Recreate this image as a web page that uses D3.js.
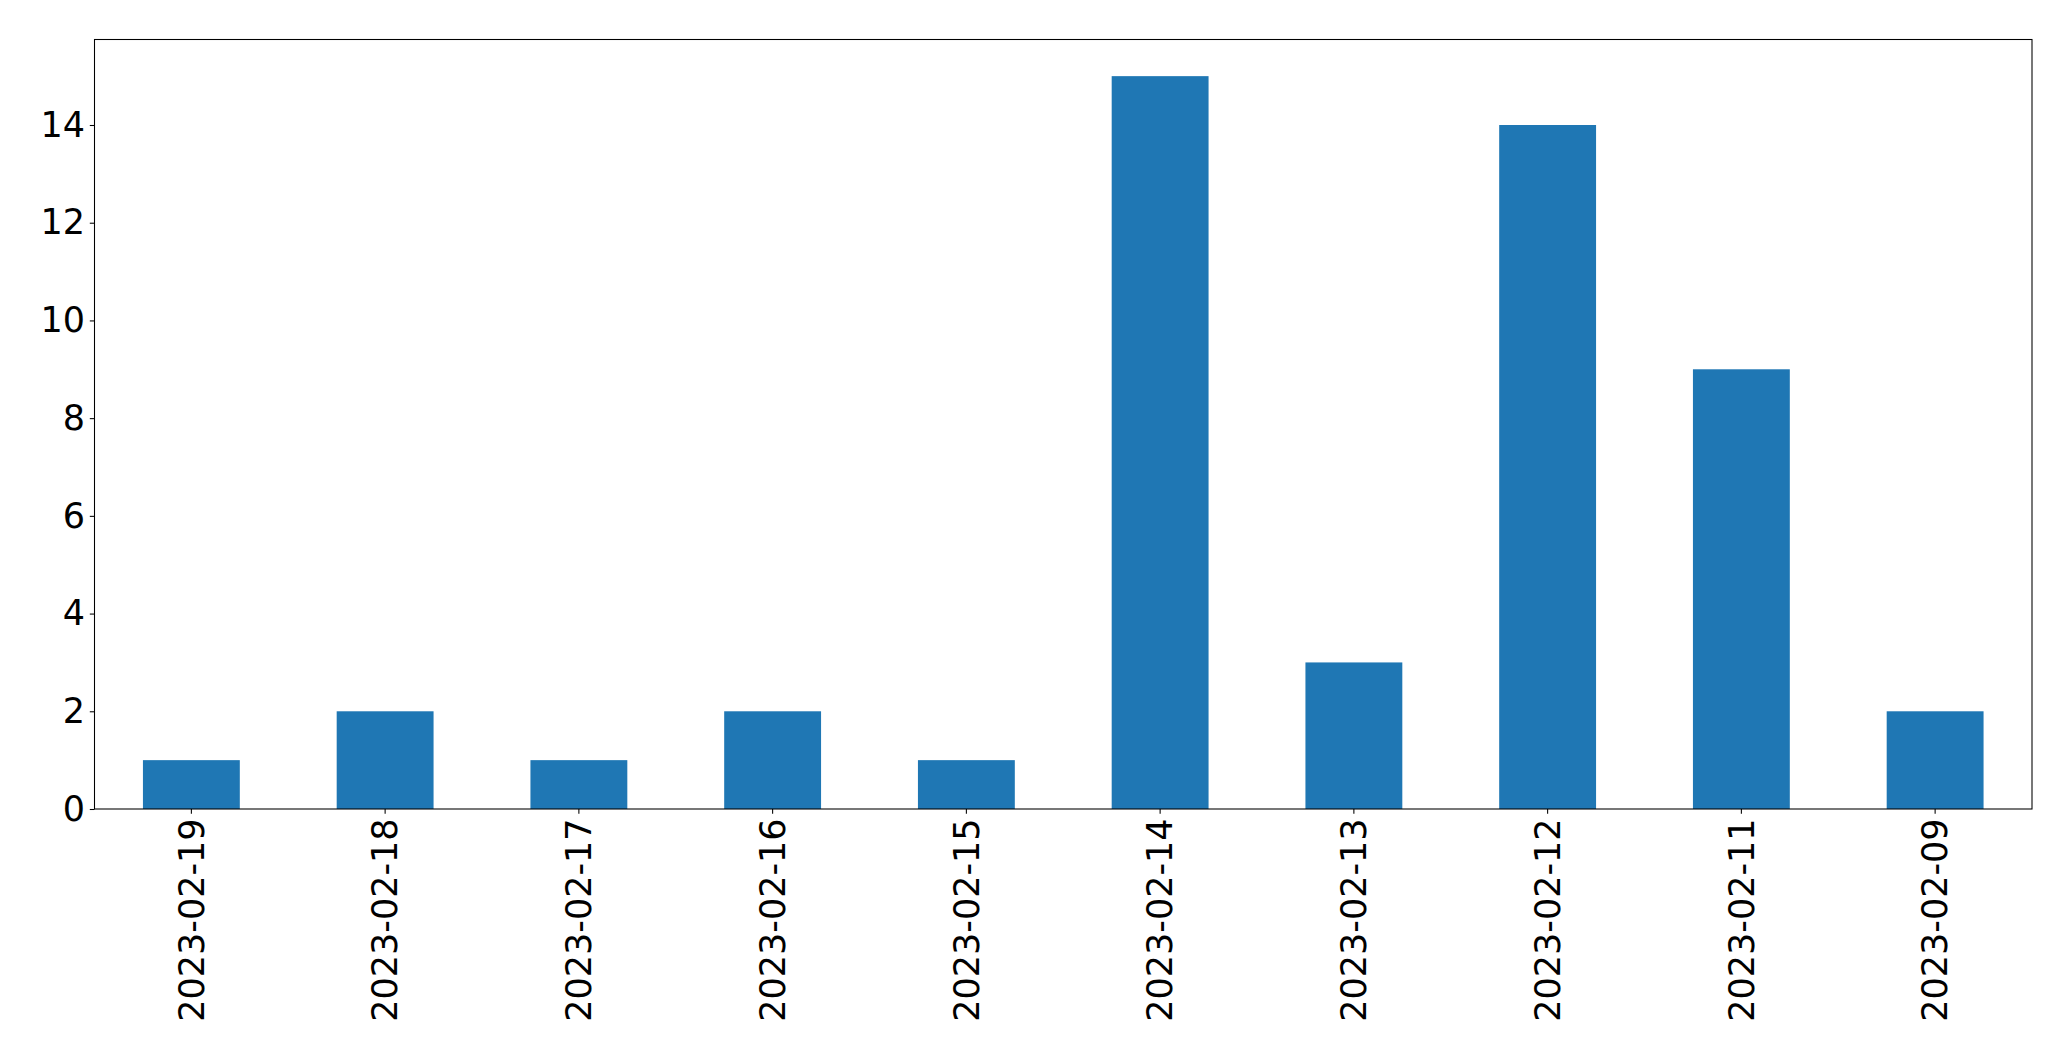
<!DOCTYPE html>
<html><head><meta charset="utf-8">
<script src="https://cdn.jsdelivr.net/npm/d3@7"></script>
<style>body{margin:0;background:#fff;} text{font-family:"DejaVu Sans",sans-serif;}</style>
</head><body>
<svg id="chart" width="2071" height="1061"></svg>
<script>
const categories = ["2023-02-19","2023-02-18","2023-02-17","2023-02-16","2023-02-15","2023-02-14","2023-02-13","2023-02-12","2023-02-11","2023-02-09"];
const values = [1,2,1,2,1,15,3,14,9,2];
const yTicks = [0,2,4,6,8,10,12,14];

const svg = d3.select("#chart");
const L = 94.5, T = 39.5, R = 2032, B = 809;
const fs = 35;

const x = d3.scaleBand().domain(categories).range([L, R]).paddingInner(0.5).paddingOuter(0.25);
const y = d3.scaleLinear().domain([0, d3.max(values) * 1.05]).range([B, T]);

svg.append("g").selectAll("rect").data(values).join("rect")
  .attr("x", (d, i) => x(categories[i]))
  .attr("width", x.bandwidth())
  .attr("y", d => y(d))
  .attr("height", d => B - y(d))
  .attr("fill", "#1f77b4");

const yAxis = svg.append("g").attr("transform", `translate(${L},0)`)
  .call(d3.axisLeft(y).tickValues(yTicks).tickSize(4.7).tickPadding(4.7).tickFormat(d3.format("d")));
yAxis.select(".domain").remove();
yAxis.selectAll("line").attr("stroke", "#000").attr("stroke-width", 1.07);
yAxis.selectAll("text").attr("font-size", fs).attr("fill", "#000").style("font-family", "DejaVu Sans");

const xAxis = svg.append("g").attr("transform", `translate(0,${B})`)
  .call(d3.axisBottom(x).tickSize(4.7).tickPadding(4.7));
xAxis.select(".domain").remove();
xAxis.selectAll("line").attr("stroke", "#000").attr("stroke-width", 1.07);
xAxis.selectAll("text")
  .attr("font-size", fs).attr("fill", "#000").style("font-family", "DejaVu Sans")
  .attr("text-anchor", "end")
  .attr("y", 0).attr("dy", "0.35em")
  .attr("transform", "translate(0,9.4) rotate(-90)");

svg.append("rect").attr("x", L).attr("y", T).attr("width", R - L).attr("height", B - T)
  .attr("fill", "none").attr("stroke", "#000").attr("stroke-width", 1.07);
</script>
</body></html>
